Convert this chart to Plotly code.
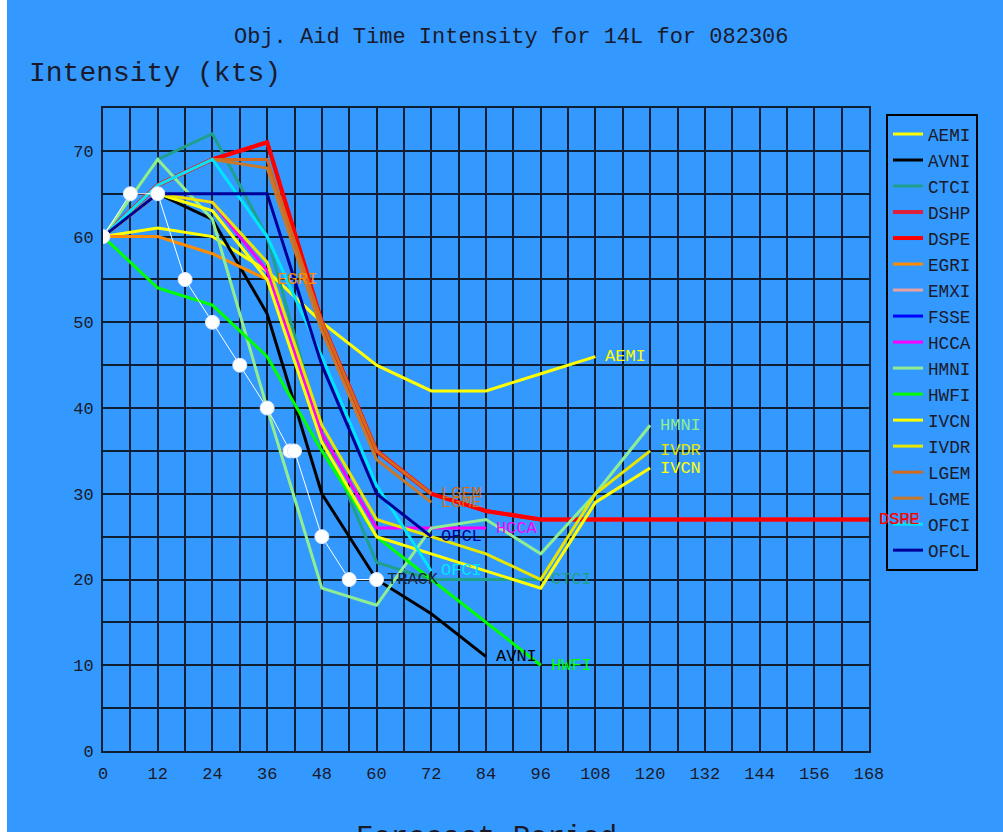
import plotly.graph_objects as go

# ---------------- data ----------------
hours = [0, 12, 24, 36, 48, 60, 72, 84, 96, 108, 120, 132, 144, 156, 168]

AEMI = [60, 61, 60, 56, 50, 45, 42, 42, 44, 46]
AVNI = [60, 65, 62, 51, 30, 20, 16, 11]
CTCI = [60, 69, 72, 60, 37, 22, 20, 20, 20]
DSHP = [60, 66, 69, 71, 50, 35, 30, 28, 27, 27, 27, 27, 27, 27, 27]
DSPE = [60, 66, 69, 71, 50, 35, 30, 28, 27, 27, 27, 27, 27, 27, 27]
EGRI = [60, 60, 58, 55]
EMXI = []
FSSE = []
HCCA = [60, 65, 64, 56, 37, 26, 26, 26]
HMNI = [60, 69, 62, 40, 19, 17, 26, 27, 23, 30, 38]
HWFI = [60, 54, 52, 46, 35, 25, 20, 15, 10]
IVCN = [60, 65, 63, 55, 36, 25, 23, 21, 19, 29, 33]
IVDR = [60, 65, 64, 57, 38, 27, 25, 23, 20, 30, 35]
LGEM = [60, 66, 69, 69, 50, 35, 30]
LGME = [60, 66, 69, 68, 49, 34, 29]
OFCI = [60, 66, 69, 60, 46, 31, 21]
OFCL = [60, 65, 65, 65, 45, 30, 25]

track_hours = [0, 6, 12, 18, 24, 30, 36, 41, 42, 48, 54, 60]
track_vals = [60, 65, 65, 55, 50, 45, 40, 35, 35, 25, 20, 20]
track_label = "TRACK"

models = ["AEMI", "AVNI", "CTCI", "DSHP", "DSPE", "EGRI", "EMXI", "FSSE", "HCCA",
          "HMNI", "HWFI", "IVCN", "IVDR", "LGEM", "LGME", "OFCI", "OFCL"]
series = [AEMI, AVNI, CTCI, DSHP, DSPE, EGRI, EMXI, FSSE, HCCA,
          HMNI, HWFI, IVCN, IVDR, LGEM, LGME, OFCI, OFCL]

x_ticks = list(range(0, 169, 6))
x_ticktext = [str(v) if v % 12 == 0 else "" for v in x_ticks]
y_ticks = list(range(0, 76, 5))
y_ticktext = [str(v) if (v % 10 == 0 and v <= 70) else "" for v in y_ticks]

title_text = "Obj. Aid Time Intensity for 14L for 082306"
ytitle_text = "Intensity (kts)"
xtitle_text = "Forecast Period"

# ---------------- style ----------------
colors = {
    "AEMI": "#FFFF00", "AVNI": "#000000", "CTCI": "#1FA08A", "DSHP": "#E0203A",
    "DSPE": "#FF0000", "EGRI": "#FF8C00", "EMXI": "#E8A0A0", "FSSE": "#0000FF",
    "HCCA": "#FF00FF", "HMNI": "#90EE90", "HWFI": "#00FF00", "IVCN": "#FFFF00",
    "IVDR": "#E6E600", "LGEM": "#D2691E", "LGME": "#C8782A", "OFCI": "#00E5FF",
    "OFCL": "#000099",
}
widths = {"DSHP": 4, "DSPE": 4}
BG = "#3399FF"
GRID = "#0f1f33"
FONT = "Liberation Mono"

W, H = 1003, 832
L, R, T, B = 103, 869, 108, 751


def px_x(p):
    return (p - L) / (R - L)


def px_y(p):
    return (B - p) / (B - T)


fig = go.Figure()

for name, vals in zip(models, series):
    xs = hours[:len(vals)]
    if not vals:
        xs, vals = [None], [None]
    fig.add_trace(go.Scatter(
        x=xs, y=vals, mode="lines", name=name,
        line=dict(color=colors[name], width=widths.get(name, 3)),
        showlegend=True, cliponaxis=False,
    ))

# best track (white)
fig.add_trace(go.Scatter(
    x=track_hours, y=track_vals, mode="lines+markers", showlegend=False,
    line=dict(color="white", width=1),
    marker=dict(color="white", size=14, symbol="circle",
                line=dict(color="#dde8ff", width=1)),
))

annotations = []
for name, vals in zip(models, series):
    if not vals:
        continue
    annotations.append(dict(
        x=hours[len(vals) - 1], y=vals[-1], xref="x", yref="y",
        text=name, showarrow=False, xanchor="left", yanchor="middle",
        xshift=8, font=dict(family=FONT, size=17, color=colors[name]),
    ))
annotations.append(dict(
    x=track_hours[-1], y=track_vals[-1], xref="x", yref="y",
    text=track_label, showarrow=False, xanchor="left", yanchor="middle",
    xshift=8, font=dict(family=FONT, size=17, color="#1a2a40"),
))
annotations.append(dict(
    x=px_x(512), y=px_y(38), xref="paper", yref="paper", text=title_text,
    showarrow=False, xanchor="center", yanchor="middle",
    font=dict(family=FONT, size=22, color="#1a1a2a"),
))
annotations.append(dict(
    x=px_x(27), y=px_y(74), xref="paper", yref="paper", text=ytitle_text,
    showarrow=False, xanchor="left", yanchor="middle",
    font=dict(family=FONT, size=28, color="#1a1a2a"),
))
annotations.append(dict(
    x=px_x(487), y=px_y(838), xref="paper", yref="paper", text=xtitle_text,
    showarrow=False, xanchor="center", yanchor="middle",
    font=dict(family=FONT, size=29, color="#1a1a2a"),
))

fig.update_layout(
    width=W, height=H,
    margin=dict(l=L, r=W - R, t=T, b=H - B, pad=0),
    paper_bgcolor=BG, plot_bgcolor=BG,
    annotations=annotations,
    showlegend=True,
    legend=dict(
        x=px_x(886), y=px_y(114), xanchor="left", yanchor="top",
        bgcolor=BG, bordercolor="#000000", borderwidth=2,
        font=dict(family=FONT, size=17.7, color="#1a1a2a"),
        itemwidth=30, traceorder="normal",
    ),
    shapes=[dict(type="rect", xref="paper", yref="paper",
                 x0=px_x(-5), x1=px_x(7), y0=px_y(-5), y1=px_y(840),
                 fillcolor="white", line=dict(width=0), layer="above")],
)

fig.update_xaxes(
    range=[0, 168], tickvals=x_ticks, ticktext=x_ticktext,
    showgrid=True, gridcolor=GRID, gridwidth=2, zeroline=False,
    showline=True, linecolor=GRID, linewidth=2, mirror=True,
    ticks="", tickfont=dict(family=FONT, size=17, color="#1a1a2a"),
    ticklabelstandoff=6, fixedrange=True,
)
fig.update_yaxes(
    range=[0, 75], tickvals=y_ticks, ticktext=y_ticktext,
    showgrid=True, gridcolor=GRID, gridwidth=2, zeroline=False,
    showline=True, linecolor=GRID, linewidth=2, mirror=True,
    ticks="", tickfont=dict(family=FONT, size=17, color="#1a1a2a"),
    ticklabelstandoff=4, fixedrange=True,
)

fig.write_html("out.html")
